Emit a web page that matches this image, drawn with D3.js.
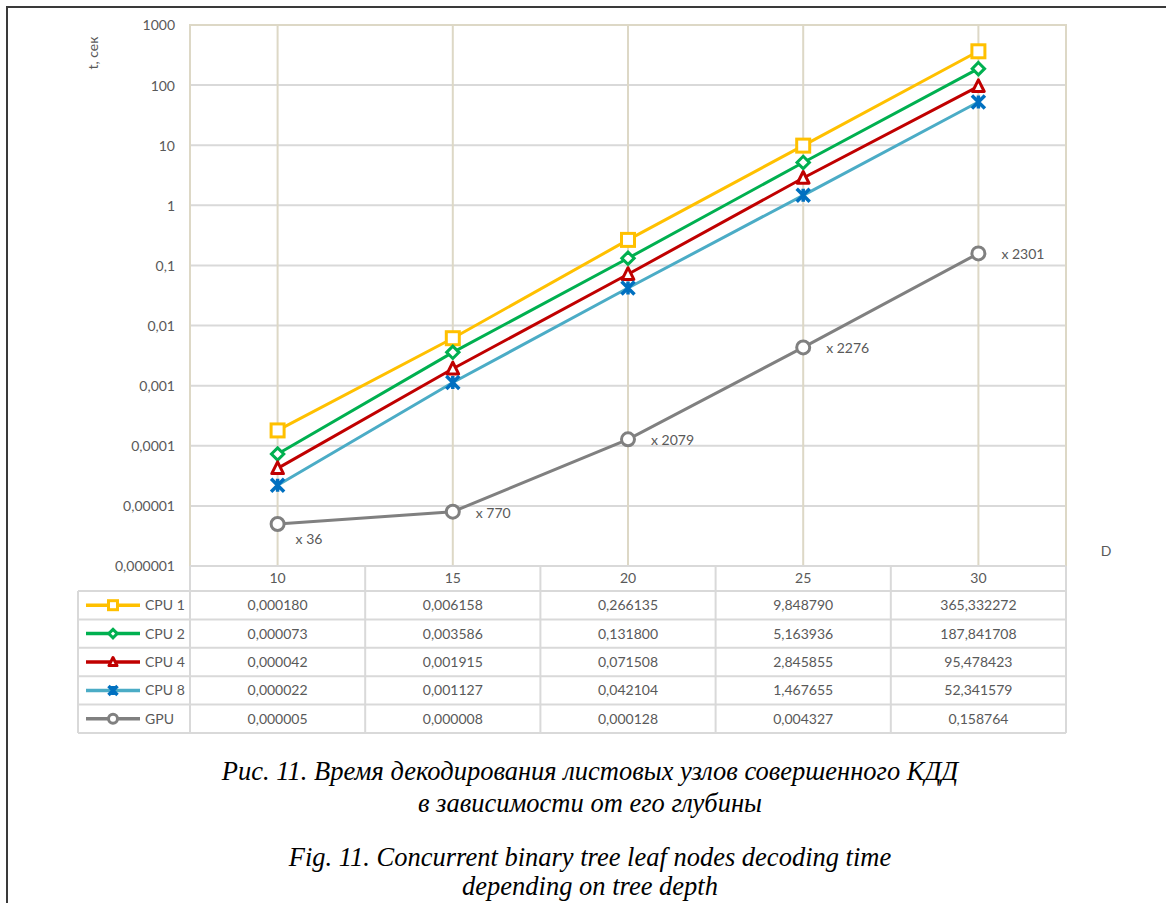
<!DOCTYPE html>
<html>
<head>
<meta charset="utf-8">
<script src="https://cdn.jsdelivr.net/npm/d3@7"></script>
<style>
  body { margin: 0; background: #fff; }
  svg { display: block; }
  .lbl { font-family: Lato, "Open Sans", sans-serif; font-size: 14px; fill: #595959; }
  .cap { font-family: "Liberation Serif", "Times New Roman", serif; font-style: italic; font-size: 26.5px; fill: #000; }
</style>
</head>
<body>
<svg id="chart"></svg>
<script>
// data
const depths = ["10", "15", "20", "25", "30"];
const seriesNames = ["CPU 1", "CPU 2", "CPU 4", "CPU 8", "GPU"];
const cpu1 = [0.000180, 0.006158, 0.266135, 9.848790, 365.332272];
const cpu2 = [0.000073, 0.003586, 0.131800, 5.163936, 187.841708];
const cpu4 = [0.000042, 0.001915, 0.071508, 2.845855, 95.478423];
const cpu8 = [0.000022, 0.001127, 0.042104, 1.467655, 52.341579];
const gpu  = [0.000005, 0.000008, 0.000128, 0.004327, 0.158764];
const tableText = [
  ["0,000180", "0,006158", "0,266135", "9,848790", "365,332272"],
  ["0,000073", "0,003586", "0,131800", "5,163936", "187,841708"],
  ["0,000042", "0,001915", "0,071508", "2,845855", "95,478423"],
  ["0,000022", "0,001127", "0,042104", "1,467655", "52,341579"],
  ["0,000005", "0,000008", "0,000128", "0,004327", "0,158764"]
];
const speedupLabels = ["x 36", "x 770", "x 2079", "x 2276", "x 2301"];
const yTicks = [1e-6, 1e-5, 1e-4, 1e-3, 1e-2, 1e-1, 1, 10, 100, 1000];
const yTickLabels = ["0,000001", "0,00001", "0,0001", "0,001", "0,01", "0,1", "1", "10", "100", "1000"];
const captionLines = [
  "Рис. 11. Время декодирования листовых узлов совершенного КДД",
  "в зависимости от его глубины",
  "Fig. 11. Concurrent binary tree leaf nodes decoding time",
  "depending on tree depth"
];

const series = [
  {name: seriesNames[0], values: cpu1, line: "#FFC000", mark: "#FFC000", shape: "square"},
  {name: seriesNames[1], values: cpu2, line: "#00B050", mark: "#00B050", shape: "diamond"},
  {name: seriesNames[2], values: cpu4, line: "#C00000", mark: "#C00000", shape: "triangle"},
  {name: seriesNames[3], values: cpu8, line: "#4BACC6", mark: "#0070C0", shape: "x"},
  {name: seriesNames[4], values: gpu,  line: "#808080", mark: "#808080", shape: "circle"}
];

const W = 1166, H = 903;
const plot = {left: 190, right: 1066, top: 25, bottom: 566};
const rowH = 28.4, headH = 25, legLeft = 78;

const svg = d3.select("#chart").attr("width", W).attr("height", H);

// outer frame (left and top edges are visible)
svg.append("path")
  .attr("d", `M7,${H} V7 H${W}`)
  .attr("fill", "none").attr("stroke", "#3a3a3a").attr("stroke-width", 2);

const x = d3.scaleBand().domain(depths).range([plot.left, plot.right]);
const y = d3.scaleLog().domain([1e-6, 1000]).range([plot.bottom, plot.top]);
const cx = d => x(d) + x.bandwidth() / 2;

// horizontal gridlines
svg.append("g").selectAll("line")
  .data(yTicks.filter(t => t < 1000 && t > 1e-6))
  .join("line")
  .attr("x1", plot.left).attr("x2", plot.right)
  .attr("y1", d => y(d)).attr("y2", d => y(d))
  .attr("stroke", "#d9d9d9").attr("stroke-width", 2);

// vertical gridlines and plot frame (beige)
const beige = "#ddd8c6";
svg.append("g").selectAll("line")
  .data(depths)
  .join("line")
  .attr("x1", d => cx(d)).attr("x2", d => cx(d))
  .attr("y1", plot.top).attr("y2", plot.bottom)
  .attr("stroke", beige).attr("stroke-width", 2);
svg.append("path")
  .attr("d", `M${plot.left},${plot.bottom} V${plot.top} H${plot.right} V${plot.bottom}`)
  .attr("fill", "none").attr("stroke", beige).attr("stroke-width", 2);

// y axis labels
const yAxis = d3.axisLeft(y).tickValues(yTicks)
  .tickFormat((d, i) => yTickLabels[i]).tickSize(0).tickPadding(15);
const yg = svg.append("g").attr("transform", `translate(${plot.left},0)`).call(yAxis);
yg.select(".domain").remove();
yg.selectAll("text").attr("class", "lbl").attr("font-family", null).attr("font-size", null)
  .attr("dy", "0.35em");

svg.append("text").attr("class", "lbl")
  .attr("transform", "translate(98,53) rotate(-90)")
  .attr("text-anchor", "middle")
  .text("t, сек");

svg.append("text").attr("class", "lbl")
  .attr("x", 1106).attr("y", 556).attr("text-anchor", "middle").text("D");

// marker drawing
function drawMarker(g, shape, color, s) {
  if (shape === "square") {
    g.append("rect").attr("x", -s).attr("y", -s).attr("width", 2 * s).attr("height", 2 * s)
      .attr("fill", "#fff").attr("stroke", color).attr("stroke-width", 3);
  } else if (shape === "diamond") {
    const r = s * 0.95;
    g.append("path").attr("d", `M0,${-r} L${r},0 L0,${r} L${-r},0 Z`)
      .attr("fill", "#fff").attr("stroke", color).attr("stroke-width", 3);
  } else if (shape === "triangle") {
    g.append("path").attr("d", `M0,${-s} L${s * 0.9},${s * 0.8} L${-s * 0.9},${s * 0.8} Z`)
      .attr("fill", "#fff").attr("stroke", color).attr("stroke-width", 3).attr("stroke-linejoin", "round");
  } else if (shape === "x") {
    g.append("path").attr("d", `M${-s},${-s} L${s},${s} M${s},${-s} L${-s},${s} M0,${-s} V${s}`)
      .attr("stroke", color).attr("stroke-width", 3.5);
  } else {
    g.append("circle").attr("r", s).attr("fill", "#fff").attr("stroke", color).attr("stroke-width", 3);
  }
}

// lines and markers
const line = d3.line().x((d, i) => cx(depths[i])).y(d => y(d));
series.forEach(s => {
  svg.append("path").datum(s.values)
    .attr("d", line).attr("fill", "none")
    .attr("stroke", s.line).attr("stroke-width", 3);
  s.values.forEach((v, i) => {
    const g = svg.append("g").attr("transform", `translate(${cx(depths[i])},${y(v)})`);
    drawMarker(g, s.shape, s.mark, 6.5);
  });
});

// speed-up labels next to GPU points
gpu.forEach((v, i) => {
  svg.append("text").attr("class", "lbl")
    .attr("x", cx(depths[i]) + (i === 0 ? 18 : 23))
    .attr("y", y(v) + (i === 0 ? 20 : 6))
    .text(speedupLabels[i]);
});

// data table under the plot
const grid = "#d9d9d9";
const tbl = svg.append("g");
const tTop = plot.bottom, tHead = tTop + headH, tBot = tHead + rowH * 5;
// horizontal rules
tbl.append("line").attr("x1", plot.left).attr("x2", plot.right).attr("y1", tTop).attr("y2", tTop)
  .attr("stroke", grid).attr("stroke-width", 2);
d3.range(6).forEach(r => {
  tbl.append("line").attr("x1", legLeft).attr("x2", plot.right)
    .attr("y1", tHead + r * rowH).attr("y2", tHead + r * rowH)
    .attr("stroke", grid).attr("stroke-width", 2);
});
// vertical rules
depths.forEach(d => {
  tbl.append("line").attr("x1", x(d)).attr("x2", x(d)).attr("y1", tTop).attr("y2", tBot)
    .attr("stroke", grid).attr("stroke-width", 2);
});
tbl.append("line").attr("x1", plot.right).attr("x2", plot.right).attr("y1", tTop).attr("y2", tBot)
  .attr("stroke", grid).attr("stroke-width", 2);
tbl.append("line").attr("x1", legLeft).attr("x2", legLeft).attr("y1", tHead).attr("y2", tBot)
  .attr("stroke", grid).attr("stroke-width", 2);

// header
tbl.selectAll(".hd").data(depths).join("text")
  .attr("class", "lbl hd").attr("text-anchor", "middle")
  .attr("x", d => cx(d)).attr("y", tTop + headH / 2).attr("dy", "0.35em")
  .text(d => d);

// rows
series.forEach((s, r) => {
  const yc = tHead + r * rowH + rowH / 2;
  tbl.append("line").attr("x1", 86).attr("x2", 140).attr("y1", yc).attr("y2", yc)
    .attr("stroke", s.line).attr("stroke-width", 3.5);
  const g = tbl.append("g").attr("transform", `translate(113,${yc})`);
  drawMarker(g, s.shape, s.mark, 4.5);
  tbl.append("text").attr("class", "lbl").attr("x", 145).attr("y", yc).attr("dy", "0.35em").text(s.name);
  tableText[r].forEach((t, i) => {
    tbl.append("text").attr("class", "lbl").attr("text-anchor", "middle")
      .attr("x", cx(depths[i])).attr("y", yc).attr("dy", "0.35em").text(t);
  });
});

// caption
const capY = [780, 812, 866, 895];
captionLines.forEach((t, i) => {
  svg.append("text").attr("class", "cap").attr("x", 590).attr("y", capY[i])
    .attr("text-anchor", "middle").text(t);
});
</script>
</body>
</html>
